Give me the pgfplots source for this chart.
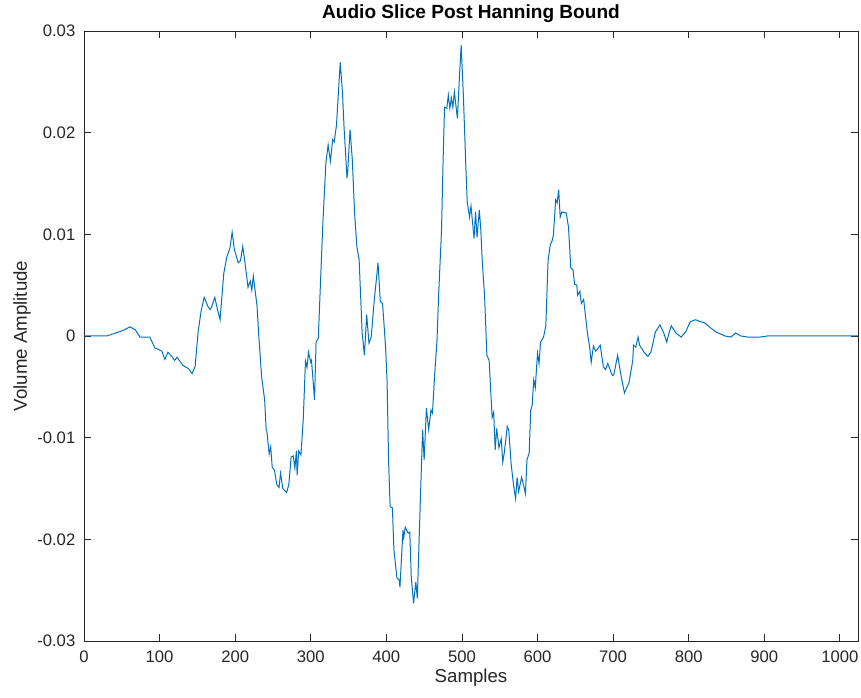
\documentclass[border=0pt]{standalone}
\usepackage{pgfplots}
\pgfplotsset{compat=1.18}
\usepackage{fontspec}
\setmainfont{Liberation Sans}
\definecolor{mblue}{rgb}{0,0.447,0.741}
\definecolor{mgray}{rgb}{0.15,0.15,0.15}
\begin{document}
\begin{tikzpicture}
\begin{axis}[
  scale only axis,
  width=580.5pt, height=457.5pt,
  xmin=0, xmax=1024, ymin=-0.03, ymax=0.03,
  xtick={0,100,...,1000},
  xticklabel style={/pgf/number format/1000 sep={}},
  ytick={-0.03,-0.02,-0.01,0,0.01,0.02,0.03},
  yticklabels={-0.03,-0.02,-0.01,0,0.01,0.02,0.03},
  scaled y ticks=false,
  tick align=inside,
  major tick length=5pt,
  axis line style={mgray, line width=0.6pt},
  every tick/.style={mgray, line width=0.6pt},
  tick label style={font=\fontsize{12.5}{14}\selectfont, text=mgray},
  /pgf/number format/assume math mode=true,
  /pgf/number format/1000 sep={},
  xticklabel style={yshift=-4pt},
  yticklabel style={xshift=-3pt},
  title={\bfseries Audio Slice Post Hanning Bound},
  title style={font=\fontsize{14.3}{16}\selectfont, yshift=-3pt},
  xlabel={Samples},
  ylabel={Volume Amplitude},
  label style={font=\fontsize{14}{16}\selectfont, text=mgray},
  xlabel style={yshift=2pt},
  ylabel style={yshift=-2pt},
]
\addplot[mblue, line width=0.75pt] coordinates {
(0,0) (30,0) (38,0.0002) (50,0.0005) (61,0.0009) (68,0.0006) (74,-0.0001) (87,-0.0001)
(94,-0.0012) (98,-0.0013) (103,-0.0015) (107,-0.0023) (111,-0.0016) (116,-0.0020)
(120,-0.0024) (123,-0.0021) (131,-0.0029) (138,-0.0032) (143,-0.0037) (147,-0.0030)
(151,0.0004) (155,0.0025) (159,0.0038) (164,0.0029) (167,0.0026) (169,0.0029)
(173,0.0038) (177,0.0025) (180,0.0016) (185,0.0062) (189,0.0078) (193,0.0086)
(196,0.0102) (199,0.0085) (204,0.0072) (207,0.0074) (210,0.0088) (213,0.0072)
(217,0.0048) (220,0.0054) (222,0.0045) (224,0.0059) (229,0.0029) (231,0.0003)
(235,-0.0040) (239,-0.0063) (241,-0.0092) (242,-0.0094) (245,-0.0116) (247,-0.0109)
(249,-0.0129) (252,-0.0132) (255,-0.0146) (258,-0.0149) (260,-0.0135) (263,-0.0150)
(268,-0.0154) (271,-0.0146) (274,-0.0119) (277,-0.0118) (279,-0.0130) (281,-0.0113)
(282,-0.0137) (284,-0.0113) (287,-0.0117) (290,-0.0083) (293,-0.0025) (295,-0.0031)
(297,-0.0016) (300,-0.0026) (301,-0.0024) (305,-0.0063) (307,-0.0006) (310,-0.0002)
(313,0.0055) (316,0.0111) (320,0.0170) (323,0.0188) (326,0.0172) (329,0.0193)
(331,0.0191) (334,0.0207) (336,0.0232) (339,0.0269) (342,0.0239) (344,0.0206)
(348,0.0155) (349,0.0163) (352,0.0203) (355,0.0173) (358,0.0121) (361,0.0088)
(364,0.0075) (368,0.0003) (371,-0.0019) (374,0.0021) (377,-0.0007) (380,-0.0001)
(384,0.0035) (389,0.0072) (392,0.0034) (395,0.0032) (399,-0.0011) (401,-0.0045)
(403,-0.0124) (405,-0.0168) (408,-0.0169) (410,-0.0210) (414,-0.0238) (417,-0.0240)
(418,-0.0247) (422,-0.0191) (423,-0.0198) (425,-0.0188) (429,-0.0194) (431,-0.0193)
(433,-0.0237) (436,-0.0263) (439,-0.0242) (441,-0.0258) (445,-0.0161) (448,-0.0092)
(450,-0.0122) (453,-0.0071) (456,-0.0092) (459,-0.0073) (461,-0.0076) (464,-0.0037)
(467,-0.0005) (469,0.0037) (473,0.0104) (475,0.0170) (477,0.0225) (480,0.0224)
(482,0.0237) (484,0.0224) (486,0.0234) (488,0.0225) (490,0.0240) (494,0.0214)
(497,0.0259) (499,0.0286) (502,0.0235) (505,0.0170) (507,0.0132) (510,0.0117)
(512,0.0128) (516,0.0096) (518,0.0122) (520,0.0097) (523,0.0124) (525,0.0104)
(527,0.0072) (530,0.0039) (533,-0.0019) (536,-0.0024) (538,-0.0053) (540,-0.0080)
(542,-0.0075) (544,-0.0112) (546,-0.0091) (549,-0.0110) (552,-0.0101) (554,-0.0124)
(556,-0.0115) (560,-0.0089) (562,-0.0093) (565,-0.0125) (568,-0.0145) (571,-0.0160)
(573,-0.0139) (575,-0.0153) (579,-0.0139) (581,-0.0145) (584,-0.0155) (586,-0.0122)
(589,-0.0115) (591,-0.0073) (593,-0.0068) (595,-0.0043) (597,-0.0051) (600,-0.0017)
(602,-0.0027) (604,-0.0006) (608,-0.0001) (611,0.0010) (614,0.0075) (617,0.0090)
(619,0.0093) (621,0.0099) (624,0.0134) (626,0.0131) (628,0.0144) (630,0.0117)
(632,0.0122) (638,0.0121) (641,0.0107) (644,0.0067) (647,0.0065) (649,0.0051)
(652,0.0050) (653,0.0040) (656,0.0044) (658,0.0032) (661,0.0036) (666,0.0003)
(669,-0.0011) (671,-0.0026) (674,-0.0010) (677,-0.0015) (680,-0.0012) (683,-0.0009)
(687,-0.0030) (690,-0.0033) (693,-0.0027) (699,-0.0039) (701,-0.0038) (706,-0.0019)
(710,-0.0037) (715,-0.0056) (721,-0.0046) (726,-0.0024) (727,-0.0009) (730,-0.0011)
(733,-0.0001) (735,-0.0009) (741,-0.0016) (746,-0.0020) (750,-0.0016) (756,0.0004)
(762,0.0011) (767,0.0003) (771,-0.0006) (774,0.0003) (777,0.0010) (783,0.0003)
(790,-0.0001) (796,0.0004) (802,0.0014) (809,0.0016) (816,0.0014) (821,0.0013)
(829,0.0008) (836,0.0004) (842,0.0002) (848,0.0000) (856,-0.0001) (862,0.0003)
(869,0.0000) (878,-0.0001) (886,-0.0001) (895,-0.0001) (904,0.0000) (922,0.0000)
(1024,0)
};
\end{axis}
\pgfresetboundingbox
\path ([shift={(-63pt,-42.75pt)}]current axis.south west) rectangle ([shift={(2.25pt,23.25pt)}]current axis.north east);
\end{tikzpicture}
\end{document}
